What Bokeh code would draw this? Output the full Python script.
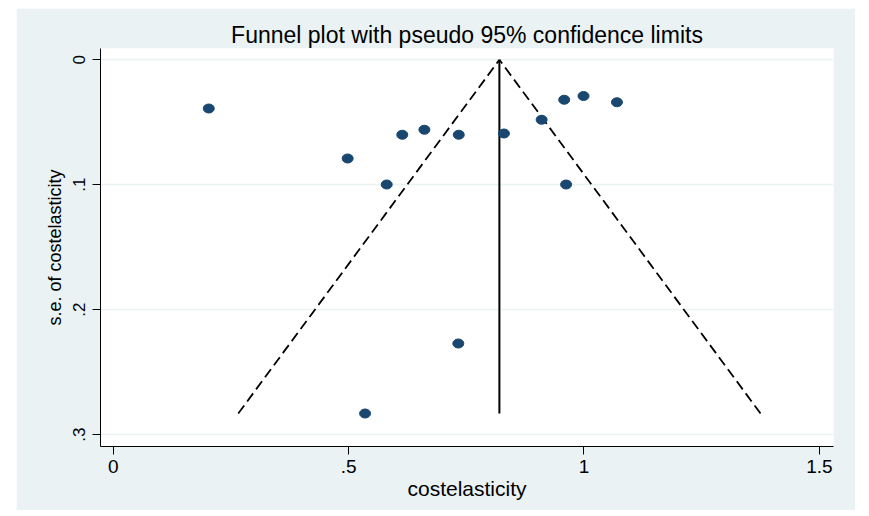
import numpy as np
from bokeh.plotting import figure
from bokeh.models import Range1d, FixedTicker, CustomJSTickFormatter
from bokeh.embed import file_html
from bokeh.resources import INLINE

# study estimates (costelasticity) and their standard errors
effect = [0.203, 0.498, 0.581, 0.614, 0.661, 0.734, 0.830, 0.910, 0.958, 0.999, 1.070, 0.962, 0.733, 0.535]
se = [0.039, 0.079, 0.0998, 0.060, 0.056, 0.060, 0.059, 0.048, 0.032, 0.029, 0.034, 0.0998, 0.227, 0.283]

x_ticks = [0, 0.5, 1, 1.5]
y_ticks = [0, 0.1, 0.2, 0.3]

title_text = "Funnel plot with pseudo 95% confidence limits"
x_label = "costelasticity"
y_label = "s.e. of costelasticity"

# fixed-effect pooled estimate and pseudo 95% limits
eff = np.array(effect)
s = np.array(se)
w = 1.0 / s**2
pooled = float(np.sum(w * eff) / np.sum(w))
se_max = float(s.max())

BG = "#EAF2F3"
FONT = "Liberation Sans"

p = figure(frame_width=733, frame_height=398,
           min_border_left=84, min_border_right=22,
           min_border_top=40, min_border_bottom=64,
           x_range=Range1d(-0.027, 1.530), y_range=Range1d(0.3094, -0.009),
           output_backend="svg", toolbar_location=None,
           title=title_text)
p.margin = (8, 0, 0, 16)
p.border_fill_color = BG
p.background_fill_color = "white"
p.outline_line_color = None

p.title.align = "center"
p.title.text_font = FONT
p.title.text_font_size = "23px"
p.title.text_font_style = "normal"
p.title.text_color = "black"
p.title.standoff = 2

fmt = CustomJSTickFormatter(code="""
var s = (Math.round(tick*10)/10).toString();
return s.replace(/^0\\./, '.');
""")

for ax in (p.xaxis[0], p.yaxis[0]):
    ax.axis_line_color = "black"
    ax.major_tick_line_color = "black"
    ax.minor_tick_line_color = None
    ax.major_tick_out = 8
    ax.major_tick_in = 0
    ax.major_label_text_font = FONT
    ax.major_label_text_color = "black"
    ax.axis_label_text_font = FONT
    ax.axis_label_text_font_style = "normal"
    ax.axis_label_text_color = "black"
    ax.formatter = fmt

p.xaxis.major_label_text_font_size = "19px"
p.yaxis.major_label_text_font_size = "17px"
p.xaxis.axis_label_text_font_size = "21px"
p.yaxis.axis_label_text_font_size = "18px"

p.xaxis.ticker = FixedTicker(ticks=x_ticks)
p.yaxis.ticker = FixedTicker(ticks=y_ticks)
p.xaxis.axis_label = x_label
p.yaxis.axis_label = y_label
p.yaxis.major_label_orientation = "vertical"
p.xaxis.major_label_standoff = 5
p.yaxis.major_label_standoff = 8
p.xaxis.axis_label_standoff = 1
p.yaxis.axis_label_standoff = 5

p.xgrid.grid_line_color = None
p.ygrid.grid_line_color = BG
p.ygrid.grid_line_width = 1.5

# funnel lines
p.line([pooled - 1.96 * se_max, pooled], [se_max, 0], line_color="black",
       line_width=1.8, line_dash="10 5")
p.line([pooled + 1.96 * se_max, pooled], [se_max, 0], line_color="black",
       line_width=1.8, line_dash="10 5")
p.line([pooled, pooled], [0, se_max], line_color="black", line_width=2)

p.ellipse(x=effect, y=se, width=11, height=9, width_units="screen",
          height_units="screen", fill_color="#1A476F", line_color="#1A476F")

open("out.html", "w").write(file_html(p, INLINE))
